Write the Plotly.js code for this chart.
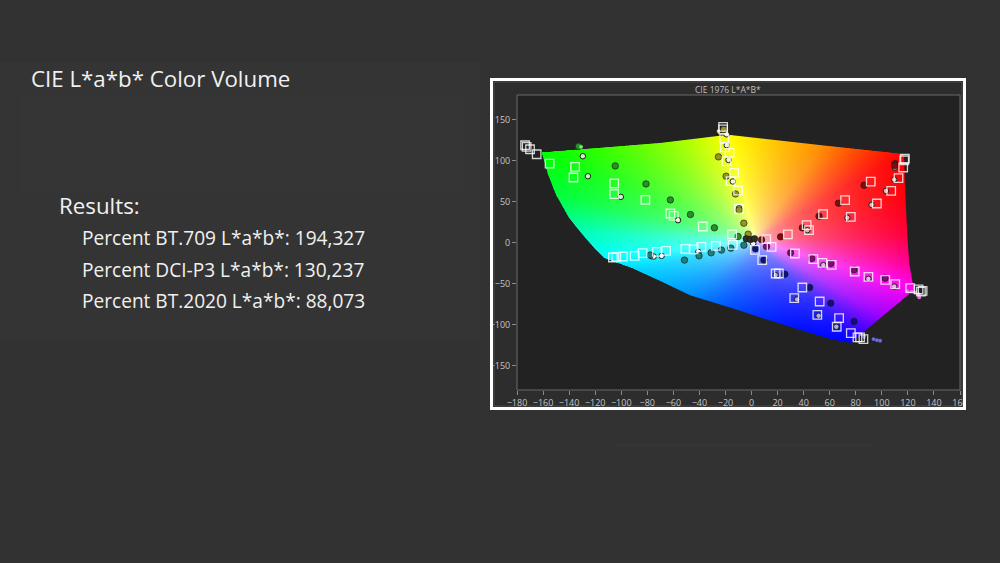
<!DOCTYPE html>
<html><head><meta charset="utf-8">
<script src="https://cdn.plot.ly/plotly-3.0.1.min.js"></script>
<style>html,body{margin:0;padding:0;background:#323232;overflow:hidden}#chart{width:1000px;height:563px}</style>
</head><body><div id="chart"></div>
<script>
// ---------- data ----------
const xTicks = [-180,-160,-140,-120,-100,-80,-60,-40,-20,0,20,40,60,80,100,120,140,160];
const yTicks = [-150,-100,-50,0,50,100,150];

// gamut boundary (a*, b*)
const gamutA = [-161,-70,-18,55,117,118,119.5,121,123.5,125.5,76,61,35,10,-16,-47,-70,-92,-113,-120,-131,-140,-150,-156];
const gamutB = [110,121.5,131.5,118.5,108,60,10,-25,-48,-57,-122.5,-118,-105.5,-93,-79.6,-64.5,-47,-31,-19,-8,12,30,58,82];

// target squares
const targetA = [
 -173.8,-172.6,-170,-164.9,-155,-135.4,-136.7,-105.4,-105.4,-81.5,-62.3,-59.7,-37.4,
 -21.8,-21.8,-21,-20.5,-16.9,-19.2,-13.3,-16,-10.3,-9.7,-14.9,
 117.7,117.2,116.4,112.8,107.2,91.5,96.2,71.8,76.2,54.9,42.3,44.1,27.9,11.3,
 131.3,128.2,130,121.8,110.3,102.6,89.7,79.2,61.5,54.4,47.4,33.3,15.4,
 85.9,83.3,81.3,76.2,67.2,65.4,52.3,50.5,39,32.8,18.5,21,8.2,2.6,
 -106.4,-103.8,-98.7,-89.7,-83.6,-72.6,-65.6,-50.8,-44.4,-38.5,-27.4,-14.4];
const targetB = [
 118.7,116.7,113.8,107.7,96.3,92.3,79.3,72,59,52,35.4,32.5,19.5,
 141,138,127,116,109.4,99,85,75,63.4,41.1,9.8,
 102.4,100.4,91.5,78.5,63,74.4,47.6,51.6,31.3,34.6,21.1,15,9.8,4.1,
 -59,-57.3,-60,-55.7,-50.8,-45.5,-41.9,-35.4,-27.2,-24.8,-20.3,-13.4,-5.3,
 -117.9,-115.9,-115.9,-110.6,-92.3,-102.8,-72,-88.2,-54.9,-67.9,-37.8,-37.8,-21.5,-8.9,
 -18.3,-17.5,-17.1,-16.3,-13,-11.4,-10.2,-7.7,-8.5,-5.3,-4.1,-2.8];

// measured (dark filled circles)
const measuredA = [-132.8,-104.6,-81,-62.3,-46.9,-28.5,-10.3,
 -21.3,-25.4,-19.5,-12.3,-9.5,-5.9,-2.6,
 110,110,86.4,66.7,51.8,39,22.3,7.7,
 102.6,78.7,60.8,46.2,30,11.5,
 78.7,60.8,44.6,25.6,9.5,3.1,
 -77.7,-51.5,-40.3,-31,-23.1,-15.9,-5.9,
 -4.1,-0.8,2.3];
const measuredB = [117.4,93.5,71.5,52,34.1,17.9,7.3,
 138,104.5,80.9,59.3,39.8,23.6,10.2,
 96.3,93.9,69.9,48,32.1,17.9,6.9,3.3,
 -43.5,-33.3,-25.6,-19.5,-12.6,-4.9,
 -96.3,-74,-54.9,-38.6,-21.5,-7.7,
 -15.4,-21.5,-16.3,-12.6,-9.3,-6.9,-3.3,
 4.5,3.7,4.5];
const measuredSpoke = ['G','G','G','G','G','G','G','Y','Y','Y','Y','Y','Y','Y',
 'R','R','R','R','R','R','R','R','M','M','M','M','M','M','B','B','B','B','B','B',
 'C','C','C','C','C','C','C','N','N','N'];

// light circles
const refA = [-129.5,-125.6,-100.3,-56.4, -19.2,-19,-17.7,-14.4,-9.5,
 110,109.5,103.1,92.1,73.6,42.8, 109.5,89.7,55.1, 65.1,51.5,35,18.5, -76.9,-75.1,-69,-40.8, 1.3];
const refB = [105.3,80.9,55.7,27.2, 132,118.7,100.8,74.4,41.9,
 91.5,76.8,63,45.9,30.1,15, -53.7,-44.3,-27.6, -102.8,-89.4,-69.5,-39.8, -16.7,-17.1,-16.3,-11.4, -1.2];
const refSpoke = ['G','G','G','G','Y','Y','Y','Y','Y','R','R','R','R','R','R','M','M','M','B','B','B','B','C','C','C','C','N'];

// small saturated end dots
const endA = [-130.8,-25.3,119.7,123,125.6,128.2,128.7,86.4,93.6,96.2,98.7];
const endB = [116.7,136,-59.4,-60,-61,-63,-67,-115,-117.9,-119.1,-119.9];
const endSpoke = ['G','Y','M','M','M','M','M','B','B','B','B'];

// ---------- style ----------
const darkCol = {G:'#259225',Y:'#96961a',R:'#800c0c',M:'#800c74',B:'#10107a',C:'#178282',N:'#2e2e22'};
const lightCol = {G:'#c8f5c0',Y:'#f5f5c8',R:'#f2acac',M:'#f2acf2',B:'#acacf2',C:'#eaffff',N:'#ffffff'};
const endCol = {G:'#70ee70',Y:'#e8e040',M:'#e070e0',B:'#6a6ae0'};

// hue stops around the boundary (direction a,b -> rgb)
const hueStops = [
 [-113,-19,[0,255,255]],[-85,-35,[0,208,255]],[-47,-64.5,[0,144,255]],[-16,-79.6,[0,80,255]],
 [35,-105,[0,16,255]],[76,-122.5,[0,0,255]],[100.7,-89.7,[160,0,255]],[125.5,-57,[255,0,240]],
 [121,-25,[255,0,150]],[119.5,10,[255,0,60]],[118,60,[255,0,10]],[117,108,[255,0,0]],
 [55,118.5,[255,140,0]],[-18,131.5,[255,255,0]],[-70,121.5,[130,255,0]],[-161,110,[0,255,0]],
 [-150,58,[0,255,60]],[-131,12,[0,255,190]]
];
const CX = 3, CY = 3;
const stops = hueStops.map(s => ({ang: Math.atan2(s[1]-CY, s[0]-CX), c: s[2]})).sort((p,q)=>p.ang-q.ang);
function hueAt(t){
  const n = stops.length;
  for (let i=0;i<n-1;i++){
    const p = stops[i], q = stops[i+1];
    if (t >= p.ang && t <= q.ang){
      const f = (t-p.ang)/(q.ang-p.ang);
      return [0,1,2].map(k => p.c[k]*(1-f)+q.c[k]*f);
    }
  }
  const p = stops[n-1], q = stops[0];
  let tt = t < q.ang ? t + 2*Math.PI : t;
  const a0 = p.ang, a1 = q.ang + 2*Math.PI;
  const f = (tt-a0)/(a1-a0);
  return [0,1,2].map(k => p.c[k]*(1-f)+q.c[k]*f);
}
// boundary radius table
const NB = 2880;
const Rtab = new Float64Array(NB);
const nv = gamutA.length;
for (let i=0;i<NB;i++){
  const th = -Math.PI + 2*Math.PI*i/NB;
  const dx = Math.cos(th), dy = Math.sin(th);
  let best = 0;
  for (let j=0;j<nv;j++){
    const x1 = gamutA[j]-CX, y1 = gamutB[j]-CY, x2 = gamutA[(j+1)%nv]-CX, y2 = gamutB[(j+1)%nv]-CY;
    const ex = x2-x1, ey = y2-y1;
    const den = dx*ey - dy*ex;
    if (Math.abs(den) < 1e-12) continue;
    const t = (x1*ey - y1*ex)/den;
    const u = (x1*dy - y1*dx)/den;
    if (t > 0 && u >= 0 && u <= 1) best = Math.max(best, t);
  }
  Rtab[i] = best;
}
const xMin=-180, xMax=160, yMin=-180, yMax=180;
const IW = 443, IH = 295;
const ddx = (xMax-xMin)/IW, ddy = (yMax-yMin)/IH;
const img = [];
for (let r=0;r<IH;r++){
  const row = [];
  const b = yMin + ddy*(r+0.5);
  for (let c=0;c<IW;c++){
    const a = xMin + ddx*(c+0.5);
    const vx = a-CX, vy = b-CY;
    const rr = Math.hypot(vx,vy);
    const th = Math.atan2(vy,vx);
    const idx = Math.round((th+Math.PI)/(2*Math.PI)*NB) % NB;
    const R = Rtab[idx];
    const pxs = Math.hypot(Math.cos(th)*ddx, Math.sin(th)*ddy) || 1;
    const alpha = Math.max(0, Math.min(1, (R - rr)/pxs + 0.5));
    if (alpha <= 0){ row.push([0,0,0,0]); continue; }
    const s = Math.pow(Math.min(1, rr/R), 0.38);
    const h = hueAt(th);
    row.push([255*(1-s)+h[0]*s, 255*(1-s)+h[1]*s, 255*(1-s)+h[2]*s, alpha]);
  }
  img.push(row);
}

// ---------- layout geometry ----------
const plotL = 517, plotR = 960, plotT = 95, plotB = 390;
const PX = p => (p-plotL)/(plotR-plotL);
const PY = p => (plotB-p)/(plotB-plotT);

const traces = [
  {type:'image', z: img, colormodel:'rgba', x0: xMin+ddx/2, dx: ddx, y0: yMin+ddy/2, dy: ddy, hoverinfo:'skip'},
  {type:'scatter', mode:'markers', x: refA, y: refB, hoverinfo:'skip',
    marker:{symbol:'circle', size:5.5, color: refSpoke.map(s=>lightCol[s]), line:{color:'#1c1c1c', width:1}}},
  {type:'scatter', mode:'markers', x: measuredA, y: measuredB, hoverinfo:'skip',
    marker:{symbol:'circle', size:6.5, color: measuredSpoke.map(s=>darkCol[s]), line:{color:'#151515', width:0.6}}},
  {type:'scatter', mode:'markers', x: endA, y: endB, hoverinfo:'skip',
    marker:{symbol:'circle', size:3.8, color: endSpoke.map(s=>endCol[s]), line:{width:0}}},
  {type:'scatter', mode:'markers', x: targetA, y: targetB, hoverinfo:'skip',
    marker:{symbol:'square-open', size:8.5, color:'rgba(255,255,255,0.8)', line:{width:1.3}}}
];

const axFont = {family:'Open Sans, sans-serif', size:9, color:'#c4c4c4'};
const textFont = (sz) => ({family:'Open Sans, sans-serif', size: sz, color:'#f0f0f0'});
const layout = {
  width:1000, height:563,
  margin:{l:plotL, r:1000-plotR, t:plotT, b:563-plotB, pad:0},
  paper_bgcolor:'#323232', plot_bgcolor:'rgba(0,0,0,0)',
  showlegend:false,
  xaxis:{range:[xMin,xMax], tickvals:xTicks, ticks:'outside', ticklen:4, tickcolor:'#8a8a8a', tickwidth:1,
    showgrid:false, zeroline:false, showline:false, tickfont:axFont, scaleanchor:false, fixedrange:true},
  yaxis:{range:[yMin,yMax], tickvals:yTicks, ticks:'outside', ticklen:4, tickcolor:'#8a8a8a', tickwidth:1,
    showgrid:false, zeroline:false, showline:false, tickfont:axFont, scaleanchor:false, fixedrange:true},
  shapes:[
    // left faint panel
    {type:'rect', xref:'paper', yref:'paper', x0:PX(0), x1:PX(480), y0:PY(340), y1:PY(62), layer:'below',
     line:{width:0}, fillcolor:'#343434'},
    {type:'rect', xref:'paper', yref:'paper', x0:PX(20), x1:PX(465), y0:PY(193), y1:PY(97), layer:'below',
     line:{width:0}, fillcolor:'#353535'},
    // faint line bottom
    {type:'line', xref:'paper', yref:'paper', x0:PX(615), x1:PX(870), y0:PY(445), y1:PY(445), layer:'below',
     line:{color:'#3a3a3a', width:1}},
    // chart panel
    {type:'rect', xref:'paper', yref:'paper', x0:PX(491.5), x1:PX(964.5), y0:PY(408.5), y1:PY(79.5), layer:'below',
     line:{width:0}, fillcolor:'#2d2d2d'},
    {type:'rect', xref:'paper', yref:'paper', x0:PX(494), x1:PX(962), y0:PY(406), y1:PY(82), layer:'below',
     line:{color:'#4a4a4a', width:1}, fillcolor:'rgba(0,0,0,0)'},
    // plot area
    {type:'rect', xref:'paper', yref:'paper', x0:0, x1:1, y0:0, y1:1, layer:'below',
     line:{color:'#6a6a6a', width:1}, fillcolor:'#222222'},
    // white frame (above) + clip strip
    {type:'rect', xref:'paper', yref:'paper', x0:PX(966), x1:PX(990), y0:PY(412), y1:PY(76), layer:'above',
     line:{width:0}, fillcolor:'#323232'},
    {type:'rect', xref:'paper', yref:'paper', x0:PX(491.5), x1:PX(964.5), y0:PY(408.5), y1:PY(79.5), layer:'above',
     line:{color:'#ffffff', width:3}, fillcolor:'rgba(0,0,0,0)'}
  ],
  annotations:[
    {text:'CIE 1976 L*A*B*', xref:'paper', yref:'paper', x:PX(727.5), y:PY(89), xanchor:'center', yanchor:'middle',
     showarrow:false, font:{family:'Open Sans, sans-serif', size:8.5, color:'#c0c0c0'}},
    {text:'CIE L*a*b* Color Volume', xref:'paper', yref:'paper', x:PX(29), y:PY(78.8), xanchor:'left', yanchor:'middle',
     showarrow:false, font:textFont(22.3)},
    {text:'Results:', xref:'paper', yref:'paper', x:PX(57), y:PY(205.5), xanchor:'left', yanchor:'middle',
     showarrow:false, font:textFont(22.3)},
    {text:'Percent BT.709 L*a*b*: 194,327', xref:'paper', yref:'paper', x:PX(80), y:PY(238.4), xanchor:'left', yanchor:'middle',
     showarrow:false, font:textFont(19.1)},
    {text:'Percent DCI-P3 L*a*b*: 130,237', xref:'paper', yref:'paper', x:PX(80), y:PY(269.7), xanchor:'left', yanchor:'middle',
     showarrow:false, font:textFont(19.1)},
    {text:'Percent BT.2020 L*a*b*: 88,073', xref:'paper', yref:'paper', x:PX(80), y:PY(300.5), xanchor:'left', yanchor:'middle',
     showarrow:false, font:textFont(19.1)}
  ]
};
Plotly.newPlot('chart', traces, layout, {displayModeBar:false, staticPlot:true});
</script></body></html>
